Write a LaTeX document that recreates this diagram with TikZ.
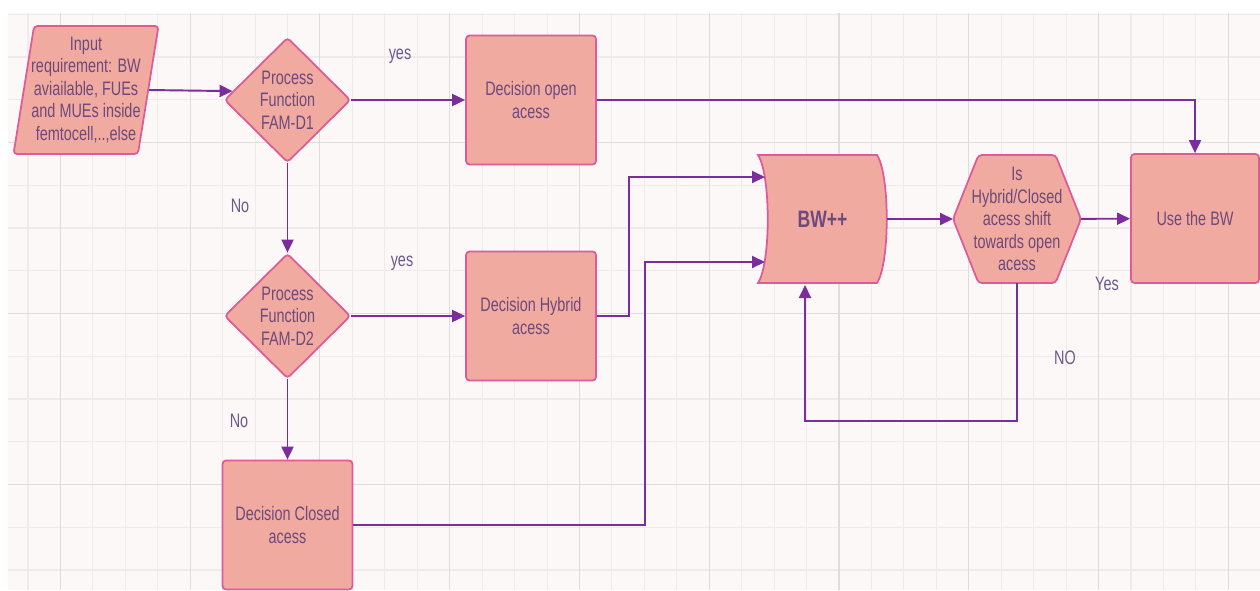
\documentclass[tikz,border=0pt]{standalone}
\usepackage{fontspec}
\setmainfont{Liberation Sans}[FakeStretch=0.74]
\usepackage{tikz}
\usetikzlibrary{shapes.geometric, arrows.meta, calc, backgrounds}
\definecolor{flowfill}{HTML}{F1AAA0}
\definecolor{flowedge}{HTML}{DE5A98}
\definecolor{flowline}{HTML}{7B2D9E}
\definecolor{flowtext}{HTML}{6C4A7C}
\definecolor{labeltext}{HTML}{6C5A8C}
\definecolor{paperpink}{HTML}{FCF8F8}
\definecolor{gridsoft}{HTML}{EFEBEB}
\definecolor{gridhard}{HTML}{E0DCDC}
\tikzset{
	flowbox/.style={draw=flowedge, fill=flowfill, line width=1pt, rounded corners=2pt, text=flowtext, align=center, font=\fontsize{11.1}{12.8}\selectfont}
}
\tikzset{
	decisionbox/.style={flowbox, rectangle, minimum width=2.6cm, minimum height=2.58cm},
	checkbox/.style={flowbox, diamond, minimum width=2.52cm, minimum height=2.5cm, inner sep=0pt},
	shapetext/.style={text=flowtext, align=center, outer sep=0pt, inner sep=0pt, font=\fontsize{11.1}{12.8}\selectfont},
	outline/.style={draw=flowedge, fill=flowfill, line width=1pt},
	answer/.style={text=labeltext, font=\fontsize{11.1}{12.8}\selectfont},
	flowarrow/.style={draw=flowline, line width=1.1pt, -{Triangle[length=2.6mm,width=2.4mm]}}
}

\begin{document}
\begin{tikzpicture}[line width=1.1pt]
      \useasboundingbox (0,0) rectangle (25.2,-11.8);
      % paper and grid
      \begin{scope}[on background layer]
        \fill[paperpink] (0.16,-0.26) rectangle (25.2,-11.8);
        \foreach \i in {0,...,37}
          \draw[gridsoft, line width=0.6pt] ({0.56+0.6488*\i},-0.26) -- ({0.56+0.6488*\i},-11.8);
        \foreach \j in {0,...,13}
          \draw[gridsoft, line width=0.6pt] (0.16,{-0.285-0.855*\j}) -- (25.2,{-0.285-0.855*\j});
        \foreach \i in {1,5,...,37}
          \draw[gridhard, line width=0.6pt] ({0.56+0.6488*\i},-0.26) -- ({0.56+0.6488*\i},-11.8);
        \foreach \j in {3,7,11}
          \draw[gridhard, line width=0.6pt] (0.16,{-0.285-0.855*\j}) -- (25.2,{-0.285-0.855*\j});
      \end{scope}
      % left column
      \node[flowbox, trapezium, trapezium left angle=79, trapezium right angle=101,
        trapezium stretches body, minimum width=2.9cm, minimum height=2.56cm,
        inner xsep=-0.1cm, inner ysep=0pt] (input) at (1.72,-1.8)
        {Input\\requirement: BW\\aviailable, FUEs\\and MUEs inside\\femtocell,..,else};
      \node[checkbox] (d1) at (5.75,-2.0) {Process\\Function\\FAM-D1};
      \node[checkbox] (d2) at (5.75,-6.32) {Process\\Function\\FAM-D2};
      \node[decisionbox] (closed) at (5.75,-10.5) {Decision Closed\\acess};
      % middle column
      \node[decisionbox] (open) at (10.62,-2.0) {Decision open\\acess};
      \node[decisionbox] (hybrid) at (10.62,-6.32) {Decision Hybrid\\acess};
      % right hand side
      \node[shapetext, minimum width=2.58cm, minimum height=2.56cm,
        font=\fontsize{13.5}{16}\selectfont\bfseries] (bw) at (16.45,-4.38) {BW++};
      \node[shapetext, minimum width=2.56cm, minimum height=2.56cm] (hex) at (20.34,-4.38)
        {Is\\Hybrid/Closed\\acess shift\\towards open\\acess};
      \node[decisionbox, minimum width=2.56cm] (use) at (23.9,-4.37) {Use the BW};
      % outlines of BW++ and the check
      \begin{scope}[on background layer]
        \filldraw[outline] (bw.north west) -- ($(bw.north east)+(-0.2,0)$)
          .. controls ($(bw.north east)+(0.06,-0.4)$) and ($(bw.south east)+(0.06,0.4)$) .. ($(bw.south east)+(-0.2,0)$)
          -- (bw.south west)
          .. controls ($(bw.south west)+(0.26,0.4)$) and ($(bw.north west)+(0.26,-0.4)$) .. (bw.north west) -- cycle;
        \filldraw[outline, rounded corners=2pt] (hex.west) -- ($(hex.north west)+(0.51,0)$)
          -- ($(hex.north east)+(-0.51,0)$) -- (hex.east) -- ($(hex.south east)+(-0.51,0)$)
          -- ($(hex.south west)+(0.51,0)$) -- cycle;
      \end{scope}
      \coordinate (d1in) at ($(d1.west)!0.14!(d1.north)$);
      \coordinate (bwtop) at ($(bw.west)+(0.14,0.84)$);
      \coordinate (bwlow) at ($(bw.west)+(0.14,-0.86)$);
      \coordinate (bwloop) at ($(bw.south)+(-0.35,-0.04)$);
      % connectors
      \draw[flowarrow] (input.east) -- (d1in);
      \draw[flowarrow] (d1) -- (open);
      \draw[flowarrow] (open) -| (use);
      \draw[flowarrow] (d1) -- (d2);
      \draw[flowarrow] (d2) -- (hybrid);
      \draw[flowarrow] (d2) -- (closed);
      \draw[flowarrow] (hybrid.east) -- ++(0.64,0) |- (bwtop);
      \draw[flowarrow] (closed.east) -- ++(5.83,0) |- (bwlow);
      \draw[flowarrow] (bw) -- (hex);
      \draw[flowarrow] (hex) -- (use);
      \draw[flowarrow] (hex.south) -- ++(0,-2.76) -| (bwloop);
      % answers
      \node[answer] (yes1) at (8.0,-1.12) {yes};
      \node[answer] (no1) at (4.8,-4.12) {No};
      \node[answer] (yes2) at (8.04,-5.26) {yes};
      \node[answer] (no2) at (4.78,-8.42) {No};
      \node[answer] (yes3) at (22.14,-5.68) {Yes};
      \node[answer] (no3) at (21.3,-7.16) {NO};
\end{tikzpicture}
\end{document}
